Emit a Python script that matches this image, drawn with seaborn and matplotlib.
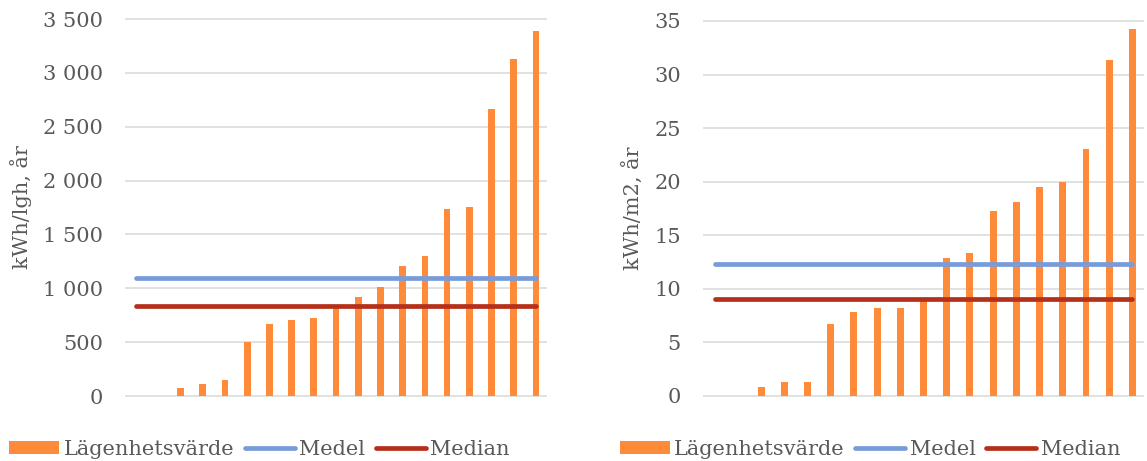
import numpy as np
import pandas as pd
import seaborn as sns
import matplotlib
matplotlib.use("Agg")
import matplotlib.pyplot as plt
from matplotlib.patches import Patch
from matplotlib.lines import Line2D
from matplotlib.ticker import FuncFormatter

sns.set_theme(style="white")
plt.rcParams["font.family"] = ["DejaVu Serif"]

# Apartments, sorted by energy value (two without usage)
apartments = [str(i) for i in range(1, 20)]
kwh_per_apartment = [0, 0, 77, 108, 145, 504, 672, 706, 724, 835, 922, 1012,
                     1210, 1300, 1736, 1758, 2668, 3132, 3385]
kwh_per_m2 = [0, 0, 0.81, 1.31, 1.31, 6.75, 7.87, 8.21, 8.24, 9.08, 12.85, 13.32,
              17.27, 18.10, 19.54, 19.97, 23.02, 31.33, 34.22]
mean_apartment, median_apartment = 1100, 835
mean_m2, median_m2 = 12.28, 9.08

left_ticks = [0, 500, 1000, 1500, 2000, 2500, 3000, 3500]
right_ticks = [0, 5, 10, 15, 20, 25, 30, 35]

ORANGE = "#FF8A3A"
BLUE = "#789CDA"
RED = "#B5301B"
GRID = "#D9D9D9"
TEXT = "#595959"
FS = 15

fig = plt.figure(figsize=(11.47, 4.61), dpi=100)
ax_l = fig.add_axes([0.109, 0.1363, 0.3679, 0.8271])
ax_r = fig.add_axes([0.6129, 0.1364, 0.3845, 0.8227])


def space_thousands(v, pos):
    return f"{int(round(v)):,}".replace(",", " ")


def draw(ax, values, mean_v, median_v, ticks, ylabel, pad_units, fmt):
    df = pd.DataFrame({"lgh": apartments, "value": values})
    sns.barplot(data=df, x="lgh", y="value", ax=ax, color=ORANGE,
                saturation=1, width=0.3, linewidth=0, zorder=2)
    xs = np.arange(len(apartments))
    sns.lineplot(x=xs, y=[mean_v] * len(xs), ax=ax, color=BLUE, lw=3.4,
                 solid_capstyle="round", zorder=3)
    sns.lineplot(x=xs, y=[median_v] * len(xs), ax=ax, color=RED, lw=3.4,
                 solid_capstyle="round", zorder=3)
    ax.set_xlim(-0.5, len(apartments) - 0.5)
    ax.set_ylim(-pad_units, ticks[-1] + pad_units)
    ax.set_yticks(ticks)
    ax.yaxis.set_major_formatter(fmt)
    ax.yaxis.grid(True, color=GRID, lw=1.1, zorder=0)
    ax.set_axisbelow(True)
    for s in ax.spines.values():
        s.set_visible(False)
    ax.set_xticks([])
    ax.set_xlabel("")
    ax.set_ylabel(ylabel, fontsize=FS, color=TEXT, labelpad=8)
    ax.tick_params(axis="y", length=0, pad=16, labelsize=FS, labelcolor=TEXT)
    ax.set_facecolor("white")


draw(ax_l, kwh_per_apartment, mean_apartment, median_apartment, left_ticks,
     "kWh/lgh, år", 20, FuncFormatter(space_thousands))
draw(ax_r, kwh_per_m2, mean_m2, median_m2, right_ticks,
     "kWh/m2, år", 0.2, FuncFormatter(lambda v, p: f"{int(round(v))}"))

handles = [Patch(facecolor=ORANGE, edgecolor="none"),
           Line2D([], [], color=BLUE, lw=3.4, solid_capstyle="round"),
           Line2D([], [], color=RED, lw=3.4, solid_capstyle="round")]
labels = ["Lägenhetsvärde", "Medel", "Median"]
for cx in (0.2262, 0.7585):
    leg = fig.legend(handles, labels, loc="center", bbox_to_anchor=(cx, 0.026),
                     ncol=3, frameon=False, fontsize=FS, handlelength=2.4,
                     handleheight=0.6, handletextpad=0.22, columnspacing=0.5,
                     borderpad=0)
    for t in leg.get_texts():
        t.set_color(TEXT)

fig.savefig("out.png", dpi=100)
